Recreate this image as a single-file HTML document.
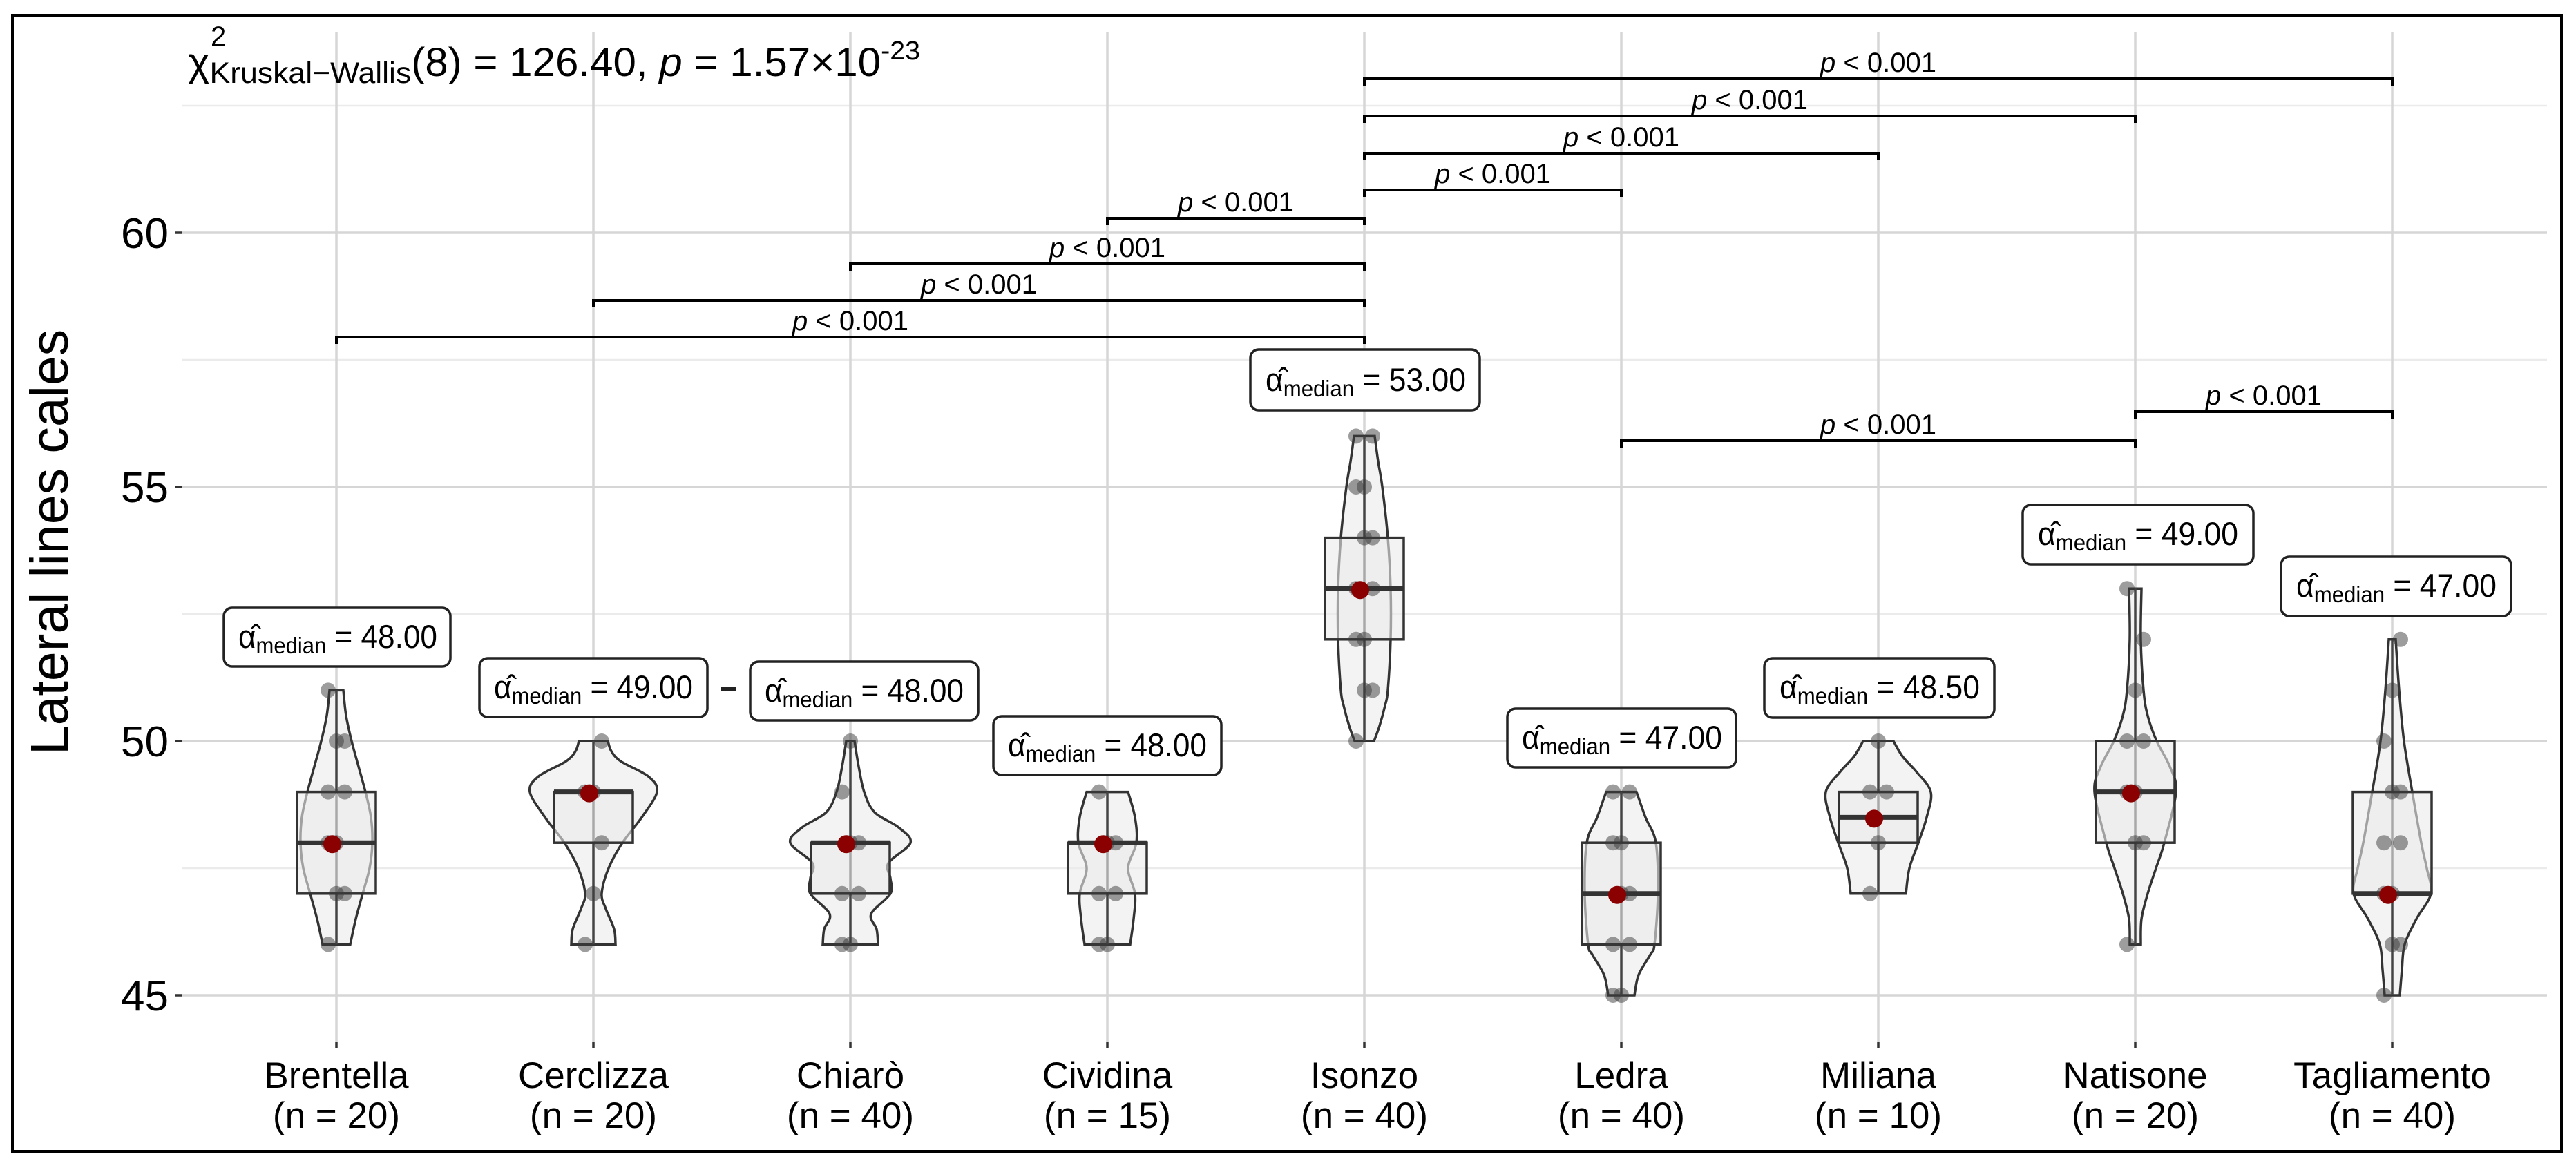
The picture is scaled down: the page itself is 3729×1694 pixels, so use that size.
<!DOCTYPE html>
<html><head><meta charset="utf-8"><style>
html,body{margin:0;padding:0;background:#fff}
svg{display:block}
text{font-family:"Liberation Sans",Arial,sans-serif;fill:#000}
</style></head><body>
<svg id="s" width="3729" height="1694" viewBox="0 0 3729 1694" xmlns="http://www.w3.org/2000/svg">
<rect x="0" y="0" width="3729" height="1694" fill="#fff"/>
<rect x="18" y="22" width="3690" height="1645" fill="none" stroke="#000" stroke-width="4"/>
<g id="grid"></g>
<g id="viol"></g>
<g id="brk" stroke="#000" stroke-width="4" fill="none"></g>
<!-- y ticks -->
<g font-size="62" text-anchor="end">
<text x="244" y="359">60</text>
<text x="244" y="727">55</text>
<text x="244" y="1095">50</text>
<text x="244" y="1463">45</text>
</g>
<text transform="translate(98,785) rotate(-90)" font-size="77" text-anchor="middle">Lateral lines cales</text>
<!-- title -->
<text x="272" y="110" font-size="58" textLength="1060" lengthAdjust="spacingAndGlyphs">χ<tspan dy="10" font-size="43">Kruskal−Wallis</tspan><tspan dy="-10" font-size="58">(8) = 126.40, </tspan><tspan font-style="italic">p</tspan> = 1.57×10<tspan dy="-24" font-size="38">-23</tspan></text>
<text x="305" y="66" font-size="40">2</text>
<!-- p labels -->
<g font-size="40" text-anchor="middle">
<text x="2719" y="104"><tspan font-style="italic">p</tspan> &lt; 0.001</text>
<text x="2533" y="158"><tspan font-style="italic">p</tspan> &lt; 0.001</text>
<text x="2347" y="212"><tspan font-style="italic">p</tspan> &lt; 0.001</text>
<text x="2161" y="265"><tspan font-style="italic">p</tspan> &lt; 0.001</text>
<text x="1789" y="306"><tspan font-style="italic">p</tspan> &lt; 0.001</text>
<text x="1603" y="372"><tspan font-style="italic">p</tspan> &lt; 0.001</text>
<text x="1417" y="425"><tspan font-style="italic">p</tspan> &lt; 0.001</text>
<text x="1231" y="478"><tspan font-style="italic">p</tspan> &lt; 0.001</text>
<text x="2719" y="628"><tspan font-style="italic">p</tspan> &lt; 0.001</text>
<text x="3277" y="586"><tspan font-style="italic">p</tspan> &lt; 0.001</text>
</g>
<!-- x labels -->
<g font-size="53" text-anchor="middle">
<text x="487" y="1575">Brentella</text><text x="487" y="1633">(n = 20)</text>
<text x="859" y="1575">Cerclizza</text><text x="859" y="1633">(n = 20)</text>
<text x="1231" y="1575">Chiarò</text><text x="1231" y="1633">(n = 40)</text>
<text x="1603" y="1575">Cividina</text><text x="1603" y="1633">(n = 15)</text>
<text x="1975" y="1575">Isonzo</text><text x="1975" y="1633">(n = 40)</text>
<text x="2347" y="1575">Ledra</text><text x="2347" y="1633">(n = 40)</text>
<text x="2719" y="1575">Miliana</text><text x="2719" y="1633">(n = 10)</text>
<text x="3091" y="1575">Natisone</text><text x="3091" y="1633">(n = 20)</text>
<text x="3463" y="1575">Tagliamento</text><text x="3463" y="1633">(n = 40)</text>
</g>
<!-- median label boxes -->
<g stroke="#222" stroke-width="3.5" fill="#fff">
<rect x="324" y="880" width="328" height="85" rx="12"/>
<rect x="694" y="953" width="330" height="85" rx="12"/>
<rect x="1086" y="958" width="330" height="85" rx="12"/>
<rect x="1438" y="1037" width="330" height="85" rx="12"/>
<rect x="1810" y="506" width="332" height="88" rx="12"/>
<rect x="2182" y="1026" width="331" height="85" rx="12"/>
<rect x="2554" y="953" width="333" height="86" rx="12"/>
<rect x="2928" y="731" width="334" height="86" rx="12"/>
<rect x="3302" y="806" width="333" height="86" rx="12"/>
</g>
<rect x="1043" y="994" width="23" height="6" fill="#222"/>
<g font-size="47">
<text x="345" y="938" textLength="288" lengthAdjust="spacingAndGlyphs">α̂<tspan font-size="33" dy="8">median</tspan><tspan dy="-8"> = 48.00</tspan></text>
<text x="715" y="1011" textLength="288" lengthAdjust="spacingAndGlyphs">α̂<tspan font-size="33" dy="8">median</tspan><tspan dy="-8"> = 49.00</tspan></text>
<text x="1107" y="1016" textLength="288" lengthAdjust="spacingAndGlyphs">α̂<tspan font-size="33" dy="8">median</tspan><tspan dy="-8"> = 48.00</tspan></text>
<text x="1459" y="1095" textLength="288" lengthAdjust="spacingAndGlyphs">α̂<tspan font-size="33" dy="8">median</tspan><tspan dy="-8"> = 48.00</tspan></text>
<text x="1832" y="566" textLength="290" lengthAdjust="spacingAndGlyphs">α̂<tspan font-size="33" dy="8">median</tspan><tspan dy="-8"> = 53.00</tspan></text>
<text x="2203" y="1084" textLength="290" lengthAdjust="spacingAndGlyphs">α̂<tspan font-size="33" dy="8">median</tspan><tspan dy="-8"> = 47.00</tspan></text>
<text x="2576" y="1011" textLength="290" lengthAdjust="spacingAndGlyphs">α̂<tspan font-size="33" dy="8">median</tspan><tspan dy="-8"> = 48.50</tspan></text>
<text x="2950" y="789" textLength="290" lengthAdjust="spacingAndGlyphs">α̂<tspan font-size="33" dy="8">median</tspan><tspan dy="-8"> = 49.00</tspan></text>
<text x="3324" y="864" textLength="290" lengthAdjust="spacingAndGlyphs">α̂<tspan font-size="33" dy="8">median</tspan><tspan dy="-8"> = 47.00</tspan></text>
</g>
</svg>
<script>
(function(){
var NS="http://www.w3.org/2000/svg";
function Y(v){return 1073-73.6*(v-50);}
function X(i){return 487+372*i;}
function el(p,t,a){var e=document.createElementNS(NS,t);for(var k in a)e.setAttribute(k,a[k]);p.appendChild(e);return e;}
var g=document.getElementById('grid');
[47.5,52.5,57.5,62.5].forEach(function(v){el(g,'line',{x1:263,x2:3687,y1:Y(v),y2:Y(v),stroke:'#ebebeb','stroke-width':2.5});});
[45,50,55,60].forEach(function(v){el(g,'line',{x1:263,x2:3687,y1:Y(v),y2:Y(v),stroke:'#d6d6d6','stroke-width':3.5});el(g,'line',{x1:253,x2:263,y1:Y(v),y2:Y(v),stroke:'#333','stroke-width':3.5});});
for(var i=0;i<9;i++){el(g,'line',{x1:X(i),x2:X(i),y1:47,y2:1508,stroke:'#d6d6d6','stroke-width':3.5});el(g,'line',{x1:X(i),x2:X(i),y1:1508,y2:1517,stroke:'#333','stroke-width':3.5});}
var D=[
 {p:[[46,20],[46.5,28],[47,38],[47.5,48],[48,52],[48.5,50],[49,42],[49.5,32],[50,22],[50.5,14],[51,10]],q:[47,48,49],m:48,pts:[46,47,47,48,48,49,49,50,50,51]},
 {p:[[46,32],[46.3,30],[46.7,18],[47,12],[47.5,22],[48,42],[48.5,70],[49,92],[49.3,80],[49.6,40],[49.8,26],[50,21]],q:[48,49,49],m:49,pts:[46,47,48,49,49,50]},
 {p:[[46,40],[46.3,38],[46.6,30],[47,58],[47.3,58],[47.6,55],[48,87],[48.3,70],[48.6,35],[49,20],[49.5,12],[50,6]],q:[47,48,48],m:48,pts:[46,46,47,47,48,48,49,50]},
 {p:[[46,33],[46.5,38],[47,40],[47.5,30],[48,42],[48.5,40],[49,30]],q:[47,48,48],m:48,pts:[46,46,47,47,48,48,49]},
 {p:[[50,14],[50.3,22],[50.7,30],[51,34],[52,38],[53,38],[54,34],[55,26],[55.5,20],[56,15]],q:[52,53,54],m:53,pts:[50,51,51,52,52,53,53,54,54,55,55,56,56]},
 {p:[[45,19],[45.4,25],[45.8,42],[46,48],[47,53],[48,50],[48.5,35],[49,22]],q:[46,47,48],m:47,pts:[45,45,46,46,47,47,48,48,49,49]},
 {p:[[47,40],[47.5,45],[48,58],[48.5,70],[49,76],[49.4,55],[49.7,35],[50,22]],q:[48,48.5,49],m:48.5,pts:[47,48,49,49,50]},
 {p:[[46,8],[46.5,9],[47,18],[47.5,30],[48,42],[49,59],[49.5,50],[50,31],[50.5,18],[51,12],[52,8],[53,9]],q:[48,49,50],m:49,pts:[46,48,48,49,49,50,50,51,52,53]},
 {p:[[45,11],[45.5,14],[46,18],[46.5,35],[47,56],[47.5,50],[48,42],[49,29],[50,17],[51,10],[52,5]],q:[47,47,49],m:47,pts:[45,46,46,47,47,48,48,49,49,50,51,52]}
];
var V=document.getElementById('viol');
D.forEach(function(d,i){
 var cx=X(i),p=d.p,L=[],R=[];
 for(var k=0;k<p.length;k++){R.push([cx+p[k][1],Y(p[k][0])]);}
 for(var k=p.length-1;k>=0;k--){L.push([cx-p[k][1],Y(p[k][0])]);}
 function smooth(a){var s='';for(var j=0;j<a.length-1;j++){var p0=a[Math.max(j-1,0)],p1=a[j],p2=a[j+1],p3=a[Math.min(j+2,a.length-1)];
  var c1=[p1[0]+(p2[0]-p0[0])/6,p1[1]+(p2[1]-p0[1])/6],c2=[p2[0]-(p3[0]-p1[0])/6,p2[1]-(p3[1]-p1[1])/6];
  s+=' C'+c1[0]+','+c1[1]+' '+c2[0]+','+c2[1]+' '+p2[0]+','+p2[1];}return s;}
 var dstr='M'+R[0][0]+','+R[0][1]+smooth(R)+' L'+L[0][0]+','+L[0][1]+smooth(L)+' Z';
 el(V,'path',{d:dstr,fill:'#f3f3f3',stroke:'#333','stroke-width':3.5});
 el(V,'line',{x1:cx,x2:cx,y1:Y(p[0][0]),y2:Y(p[p.length-1][0]),stroke:'#444','stroke-width':3.5});
 el(V,'rect',{x:cx-57,y:Y(d.q[2]),width:114,height:Y(d.q[0])-Y(d.q[2]),fill:'rgba(235,235,235,0.6)',stroke:'#333','stroke-width':3.5});
 d.pts.forEach(function(v,j){var off=((j*7)%3-1)*12;el(V,'circle',{cx:cx+off,cy:Y(v),r:11,fill:'rgba(60,60,60,0.5)'});});
 el(V,'line',{x1:cx-57,x2:cx+57,y1:Y(d.q[1]),y2:Y(d.q[1]),stroke:'#333','stroke-width':7});
 el(V,'circle',{cx:cx-6,cy:Y(d.m)+2,r:13,fill:'#8b0000'});
});
var B=document.getElementById('brk');
[[4,8,114],[4,7,168],[4,6,222],[4,5,275],[3,4,316],[2,4,382],[1,4,435],[0,4,488],[5,7,638],[7,8,596]].forEach(function(b){
 var x1=X(b[0]),x2=X(b[1]),y=b[2];
 el(B,'path',{d:'M'+x1+','+(y+10)+' L'+x1+','+y+' L'+x2+','+y+' L'+x2+','+(y+10)});
});
})();
</script>
</body></html>
